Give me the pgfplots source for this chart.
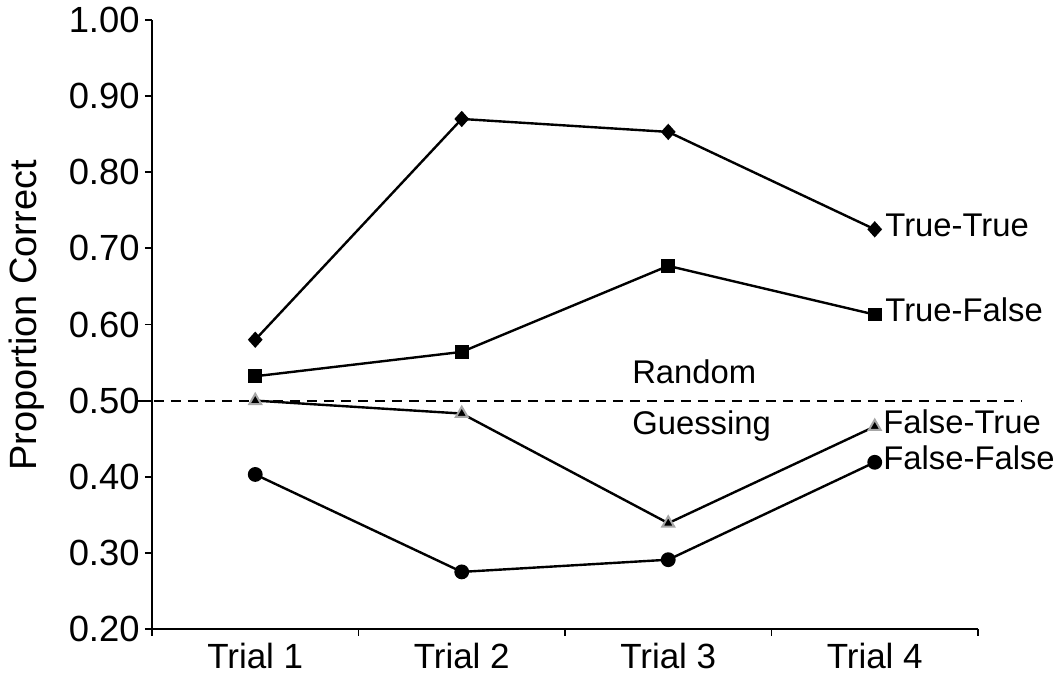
\documentclass[border=0pt]{standalone}
\usepackage{pgfplots}
\pgfplotsset{compat=1.18}
\usepackage{fontspec}
\setmainfont{Liberation Sans}
\begin{document}
\begin{tikzpicture}
\begin{axis}[
  name=ax, at={(0,0)}, anchor=south west,
  scale only axis, width=413pt, height=304.5pt,
  xmin=0.5, xmax=4.5, ymin=0.2, ymax=1.0,
  axis x line=bottom, axis y line=left, axis line style={-, line width=0.9pt},
  tick align=outside, major tick length=3.5pt,
  tick style={black, line width=0.9pt},
  xtick={0.5,1.5,2.5,3.5,4.5}, xticklabels={},
  extra x ticks={1,2,3,4},
  extra x tick labels={Trial 1,Trial 2,Trial 3,Trial 4},
  extra x tick style={major tick length=0pt, xticklabel style={font=\fontsize{17.5}{20}\selectfont, anchor=base, yshift=-20pt}},
  ytick={0.2,0.3,...,1.0},
  /pgf/number format/fixed, /pgf/number format/fixed zerofill, /pgf/number format/precision=2, /pgf/number format/assume math mode=true,
  yticklabel style={font=\fontsize{18.2}{22}\selectfont, inner sep=0pt, xshift=-2.5pt},
  ylabel={Proportion Correct},
  ylabel style={font=\fontsize{19}{23}\selectfont, at={(axis description cs:-0.152,0.515)}, anchor=center},
  clip=false,
  every axis plot/.append style={line width=1.2pt, black},
]
\addplot[dashed, dash pattern=on 5pt off 3.5pt, line width=1pt] coordinates {(0.427,0.5) (4.713,0.5)};
\addplot[mark=diamond*, mark size=3.2pt, mark options={xscale=1.2}] coordinates {(1,0.580) (2,0.870) (3,0.853) (4,0.725)};
\addplot[mark=square*, mark size=2.8pt] coordinates {(1,0.532) (2,0.564) (3,0.677) (4,0.613)};
\addplot[mark=triangle*, mark size=3.4pt, mark options={fill=black, draw=gray!70, line width=1pt}] coordinates {(1,0.500) (2,0.483) (3,0.339) (4,0.466)};
\addplot[mark=*, mark size=3.1pt] coordinates {(1,0.403) (2,0.275) (3,0.291) (4,0.419)};
\begin{scope}[every node/.style={font=\fontsize{16.4}{19}\selectfont, inner sep=0pt, anchor=base west}]
\node at (axis cs:4.05,0.7158) {True-True};
\node at (axis cs:4.05,0.6042) {True-False};
\node at (axis cs:2.824,0.5231) {Random};
\node at (axis cs:2.824,0.4553) {Guessing};
\node at (axis cs:4.04,0.4566) {False-True};
\node at (axis cs:4.04,0.4094) {False-False};
\end{scope}
\end{axis}
\path (-76pt,-27.5pt) rectangle (452.5pt,314.5pt);
\end{tikzpicture}
\end{document}
